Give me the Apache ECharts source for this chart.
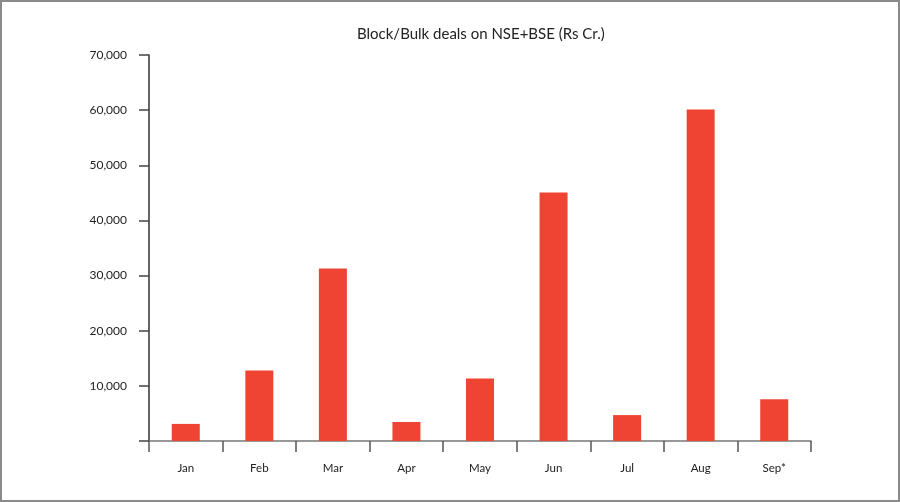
<!DOCTYPE html>
<html><head><meta charset="utf-8">
<script src="https://cdn.jsdelivr.net/npm/echarts@6/dist/echarts.min.js"></script>
<style>
html,body{margin:0;padding:0;background:#fff;}
#c{width:900px;height:502px;box-sizing:border-box;border:2px solid #8a8a8a;}
</style></head><body>
<div id="c"></div>
<script>
var categories = ['Jan','Feb','Mar','Apr','May','Jun','Jul','Aug','Sep*'];
var values = [3100, 12800, 31300, 3450, 11350, 45050, 4700, 60100, 7550];
var titleText = 'Block/Bulk deals on NSE+BSE (Rs Cr.)';

var chart = echarts.init(document.getElementById('c'), null, {renderer:'canvas'});
chart.setOption({
  animation:false,
  textStyle:{fontFamily:'Lato'},
  title:{text:titleText,left:350,top:20,textStyle:{fontFamily:'Lato',fontWeight:'normal',fontSize:15,color:'#222'}},
  grid:{left:147,right:87,top:53,bottom:59},
  xAxis:{type:'category',data:categories,
    axisLine:{lineStyle:{color:'#777',width:1.5}},
    axisTick:{show:true,length:11,lineStyle:{color:'#555',width:1.5}},
    axisLabel:{margin:21,fontSize:11.5,color:'#222',fontFamily:'Lato'}},
  yAxis:{type:'value',min:0,max:70000,interval:10000,
    axisLine:{show:true,lineStyle:{color:'#333',width:1.5}},
    axisTick:{show:true,length:10,lineStyle:{color:'#444',width:1.5}},
    splitLine:{show:false},
    axisLabel:{margin:22,fontSize:12,color:'#222',fontFamily:'Lato',
      formatter:function(v){return v===0?'':v.toLocaleString('en-US');}}},
  series:[{type:'bar',data:values,barWidth:28,itemStyle:{color:'#ef4433'}}]
});
</script></body></html>
